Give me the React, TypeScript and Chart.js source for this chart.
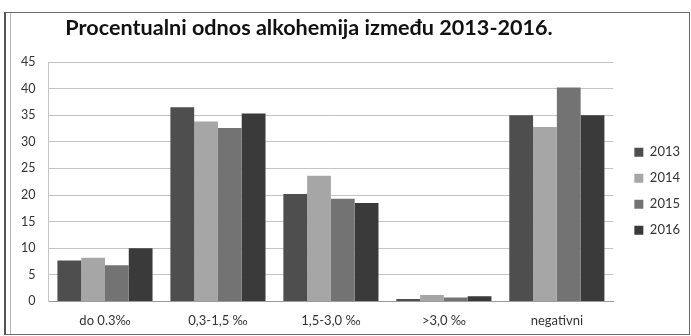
import React, { useEffect, useRef } from "react";
import { Chart, registerables } from "chart.js";

Chart.register(...registerables);

const titleText = "Procentualni odnos alkohemija između 2013-2016.";
const categories = ["do 0.3‰", "0,3-1,5 ‰", "1,5-3,0 ‰", ">3,0 ‰", "negativni"];
const years = ["2013", "2014", "2015", "2016"];
const values2013 = [7.7, 36.5, 20.2, 0.45, 35.0];
const values2014 = [8.2, 33.8, 23.6, 1.2, 32.8];
const values2015 = [6.8, 32.6, 19.3, 0.75, 40.2];
const values2016 = [10.0, 35.3, 18.5, 0.95, 35.0];
const yMin = 0;
const yMax = 45;
const yStep = 5;

const seriesValues = [values2013, values2014, values2015, values2016];
const seriesColors = ["#4e4e4e", "#a6a6a6", "#737373", "#3a3a3a"];

const titlePlugin = {
  id: "chartTitleText",
  afterDraw(chart: any) {
    const ctx = chart.ctx;
    ctx.save();
    ctx.font = "bold 21.6px Lato";
    ctx.fillStyle = "#111";
    ctx.textAlign = "center";
    ctx.textBaseline = "alphabetic";
    ctx.fillText(titleText, 309, 35);
    ctx.restore();
  },
};

export default function App() {
  const canvasRef = useRef<HTMLCanvasElement | null>(null);

  useEffect(() => {
    if (!canvasRef.current) return;
    Chart.defaults.font.family = "Lato";
    const chart = new Chart(canvasRef.current, {
      type: "bar",
      data: {
        labels: categories,
        datasets: years.map((y, i) => ({
          label: y,
          data: seriesValues[i],
          backgroundColor: seriesColors[i],
          borderWidth: 0,
          categoryPercentage: 0.842,
          barPercentage: 1,
        })),
      },
      options: {
        animation: false,
        responsive: false,
        maintainAspectRatio: false,
        layout: { padding: { top: 62, left: 8, right: 1, bottom: 0 } },
        plugins: {
          title: { display: false },
          tooltip: { enabled: false },
          legend: {
            position: "right",
            align: "center",
            fullSize: false,
            title: { display: true, text: "", padding: 0, font: { size: 19, lineHeight: 1 } },
            labels: {
              boxWidth: 9,
              boxHeight: 9,
              padding: 13,
              color: "#333",
              font: { size: 13, family: "Lato" },
            },
          },
        },
        scales: {
          x: {
            grid: { display: false, drawTicks: false },
            border: { display: true, color: "#9a9a9a" },
            ticks: { color: "#333", font: { size: 13 }, padding: 12 },
          },
          y: {
            min: yMin,
            max: yMax,
            ticks: { stepSize: yStep, color: "#333", font: { size: 12.5 }, padding: 13 },
            grid: { color: "#c4c4c4", drawTicks: false },
            border: { display: true, color: "#c4c4c4" },
          },
          spacer: {
            position: "right",
            display: true,
            grid: { display: false, drawTicks: false },
            border: { display: false },
            ticks: { display: false },
            afterFit: (s: any) => {
              s.width = 8;
            },
          },
        },
      },
      plugins: [titlePlugin],
    } as any);
    return () => chart.destroy();
  }, []);

  return (
    <div style={{ position: "fixed", left: 0, top: 0, width: 691, height: 336, background: "#fff", overflow: "hidden" }}>
      <div
        style={{
          position: "absolute",
          left: 4,
          top: 12,
          width: 683,
          height: 321,
          border: "1px solid #6a6a6a",
          borderLeft: "2px solid #555",
        }}
      />
      <div style={{ position: "absolute", left: 10, top: 13, width: 1, height: 321, background: "#b5b5b5" }} />
      <canvas ref={canvasRef} width={691} height={341} style={{ position: "absolute", left: 0, top: 0 }} />
    </div>
  );
}
